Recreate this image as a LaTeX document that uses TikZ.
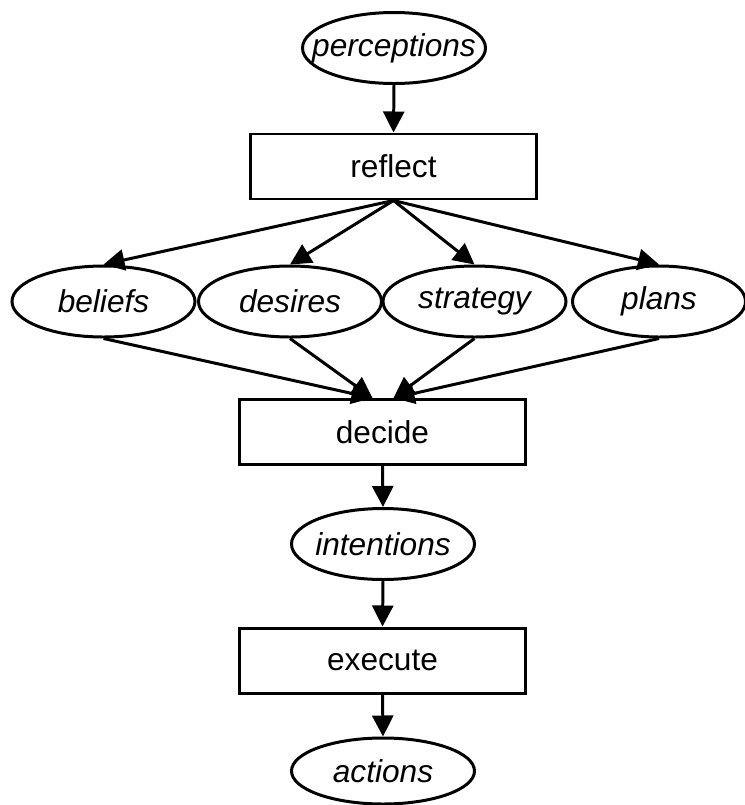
\documentclass[tikz,border=0pt]{standalone}
\usepackage{fontspec}
\setmainfont{Liberation Sans}
\usetikzlibrary{shapes.geometric, arrows.meta}

\tikzset{
    datum/.style={ellipse, draw, inner sep=0pt, minimum width=3.66cm,
                  minimum height=1.42cm, font=\fontsize{18}{21}\selectfont\itshape},
    process/.style={rectangle, draw, minimum width=5.72cm, minimum height=1.3cm,
                    font=\fontsize{18}{21}\selectfont},
    flow/.style={-{Triangle[length=0.42cm, width=0.42cm]}}
}
\newcommand{\word}[1]{\makebox[0pt]{#1}}

\begin{document}
\begin{tikzpicture}[line width=1.7pt]

    % Fix the size of the page.
    \useasboundingbox (0, 0) rectangle (14.9, -16.1);

    % Input and the first step.
    \node[datum]   (perceptions) at (7.88, -0.96) {\word{perceptions}};
    \node[process] (reflect)     at (7.87, -3.33) {reflect};

    % The four results of reflecting.
    \node[datum] (beliefs)  at ( 2.07, -6.03) {\word{beliefs}};
    \node[datum] (desires)  at ( 5.80, -6.03) {\word{desires}};
    \node[datum] (strategy) at ( 9.49, -6.03) {\word{strategy}};
    \node[datum, minimum width=3.46cm] (plans) at (13.18, -6.03) {\word{plans}};

    % Decision and execution.
    \node[process] (decide)     at (7.65,  -8.64) {decide};
    \node[datum]   (intentions) at (7.66, -10.88) {\word{intentions}};
    \node[process] (execute)    at (7.65, -13.21) {execute};
    \node[datum, minimum height=1.32cm] (actions) at (7.66, -15.42) {\word{actions}};

    % Where the arrows meet the decide box.
    \coordinate (inL) at ([xshift=-0.2cm]decide.north);
    \coordinate (inR) at ([xshift= 0.22cm]decide.north);

    % Arrows.
    \draw[flow] (perceptions.south) -- (reflect.north);
    \foreach \n in {beliefs, desires, strategy, plans}
        \draw[flow] (reflect.south) -- (\n.north);
    \draw[flow] (beliefs.south)  -- (inL);
    \draw[flow] (desires.south)  -- (inL);
    \draw[flow] (strategy.south) -- (inR);
    \draw[flow] (plans.south)    -- (inR);
    \draw[flow] (decide.south)     -- (intentions.north);
    \draw[flow] (intentions.south) -- (execute.north);
    \draw[flow] (execute.south)    -- (actions.north);
\end{tikzpicture}
\end{document}
